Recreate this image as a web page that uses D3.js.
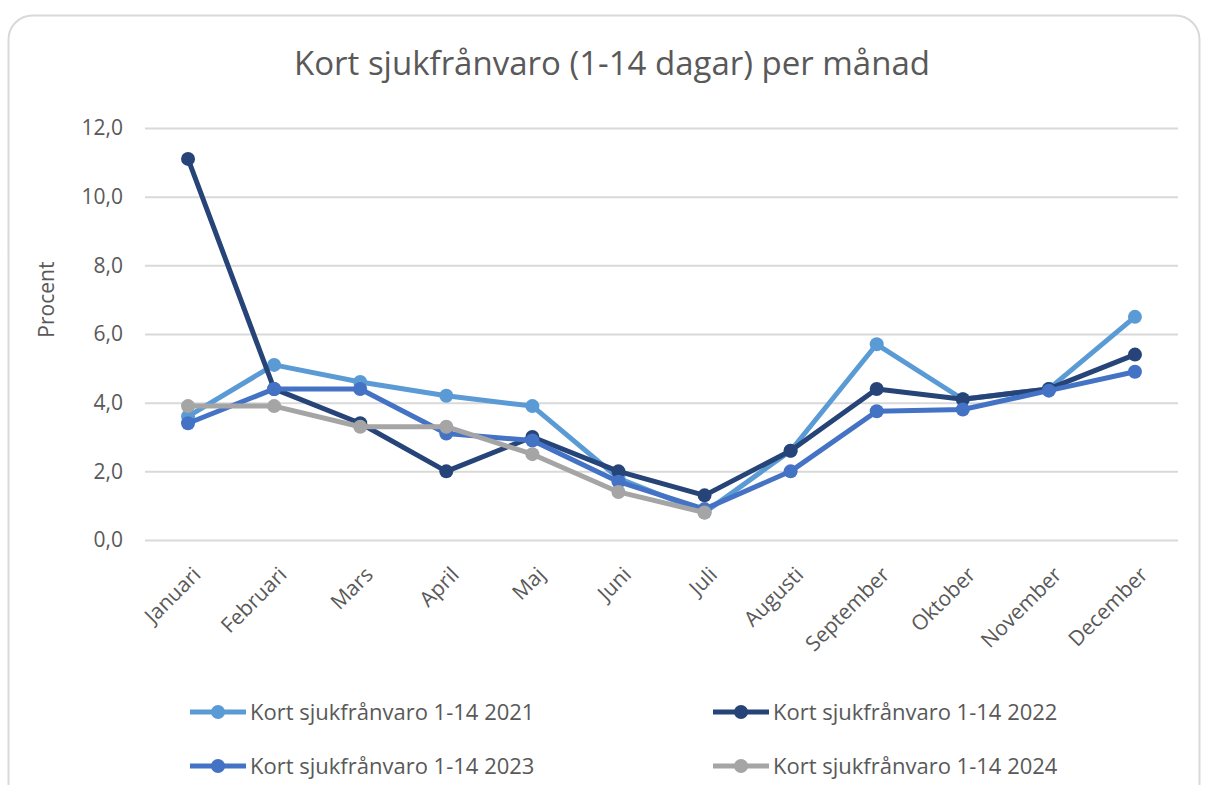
<!DOCTYPE html>
<html>
<head>
<meta charset="utf-8">
<script src="https://cdn.jsdelivr.net/npm/d3@7"></script>
<style>
  body { margin: 0; background: #fff; }
  text { font-family: "Open Sans", "Noto Sans", sans-serif; fill: #595959; }
</style>
</head>
<body>
<svg></svg>
<script>
const months = ["Januari", "Februari", "Mars", "April", "Maj", "Juni", "Juli",
                "Augusti", "September", "Oktober", "November", "December"];
const yTicks = [0, 2, 4, 6, 8, 10, 12];

const v2021 = [3.6, 5.1, 4.6, 4.2, 3.9, 1.8, 0.8, 2.6, 5.7, 4.1, 4.4, 6.5];
const v2022 = [11.1, 4.4, 3.4, 2.0, 3.0, 2.0, 1.3, 2.6, 4.4, 4.1, 4.4, 5.4];
const v2023 = [3.4, 4.4, 4.4, 3.1, 2.9, 1.7, 0.9, 2.0, 3.75, 3.8, 4.35, 4.9];
const v2024 = [3.9, 3.9, 3.3, 3.3, 2.5, 1.4, 0.8];

const seriesNames = ["Kort sjukfrånvaro 1-14 2021", "Kort sjukfrånvaro 1-14 2022",
                     "Kort sjukfrånvaro 1-14 2023", "Kort sjukfrånvaro 1-14 2024"];
const seriesColors = ["#5b9bd5", "#264478", "#4472c4", "#a5a5a5"];

const series = [v2021, v2022, v2023, v2024].map((vals, i) => ({
  name: seriesNames[i], color: seriesColors[i], values: vals
}));

const W = 1205, H = 785;
const margin = {top: 128, right: 27, bottom: 245, left: 145};

const svg = d3.select("svg").attr("width", W).attr("height", H);

// outer frame
svg.append("rect")
   .attr("x", 8.5).attr("y", 15.5)
   .attr("width", 1191).attr("height", 820)
   .attr("rx", 24)
   .attr("fill", "#fff")
   .attr("stroke", "#d9d9d9")
   .attr("stroke-width", 2);

const x = d3.scaleBand()
            .domain(months)
            .range([margin.left, W - margin.right]);

const y = d3.scaleLinear()
            .domain([0, 12])
            .range([H - margin.bottom, margin.top]);

// title
svg.append("text")
   .attr("x", 612).attr("y", 75)
   .attr("text-anchor", "middle")
   .attr("font-size", 33)
   .text("Kort sjukfrånvaro (1-14 dagar) per månad");

// grid + y axis
const yAxis = svg.append("g")
   .attr("transform", "translate(" + margin.left + ",0)")
   .call(d3.axisLeft(y)
           .tickValues(yTicks)
           .tickSize(-(W - margin.left - margin.right))
           .tickPadding(22)
           .tickFormat(d => d3.format(".1f")(d).replace(".", ",")));
yAxis.select(".domain").remove();
yAxis.selectAll(".tick line").attr("stroke", "#d9d9d9").attr("stroke-width", 2);
yAxis.selectAll(".tick text")
     .attr("font-size", 21)
     .attr("fill", "#595959")
     .style("font-family", "'Open Sans', sans-serif");

// y label
svg.append("text")
   .attr("transform", "translate(54," + y(7) + ") rotate(-90)")
   .attr("text-anchor", "middle")
   .attr("font-size", 21)
   .text("Procent");

// x axis labels
const xAxis = svg.append("g")
   .attr("transform", "translate(0," + (H - margin.bottom) + ")")
   .call(d3.axisBottom(x).tickSize(0).tickPadding(0));
xAxis.select(".domain").remove();
xAxis.selectAll(".tick text")
     .attr("font-size", 21)
     .attr("fill", "#595959")
     .style("font-family", "'Open Sans', sans-serif")
     .attr("text-anchor", "end")
     .attr("dy", 0)
     .attr("transform", "translate(14,36) rotate(-45)");

// lines
const line = d3.line()
               .x((d, i) => x(months[i]) + x.bandwidth() / 2)
               .y(d => y(d));

const sg = svg.selectAll(".series")
   .data(series)
   .enter().append("g")
   .attr("class", "series");

sg.append("path")
  .attr("d", d => line(d.values))
  .attr("fill", "none")
  .attr("stroke", d => d.color)
  .attr("stroke-width", 5)
  .attr("stroke-linejoin", "round");

sg.each(function(s) {
  d3.select(this).selectAll("circle")
    .data(s.values)
    .enter().append("circle")
    .attr("cx", (d, i) => x(months[i]) + x.bandwidth() / 2)
    .attr("cy", d => y(d))
    .attr("r", 7)
    .attr("fill", s.color);
});

// legend
const legendPos = [[190, 712], [713, 712], [190, 766], [713, 766]];
const lg = svg.selectAll(".legend")
   .data(series)
   .enter().append("g")
   .attr("class", "legend")
   .attr("transform", (d, i) => "translate(" + legendPos[i][0] + "," + legendPos[i][1] + ")");

lg.append("line")
  .attr("x1", 0).attr("x2", 56)
  .attr("stroke", d => d.color)
  .attr("stroke-width", 5);
lg.append("circle")
  .attr("cx", 28).attr("r", 7)
  .attr("fill", d => d.color);
lg.append("text")
  .attr("x", 60).attr("dy", "0.35em")
  .attr("font-size", 22)
  .text(d => d.name);
</script>
</body>
</html>
